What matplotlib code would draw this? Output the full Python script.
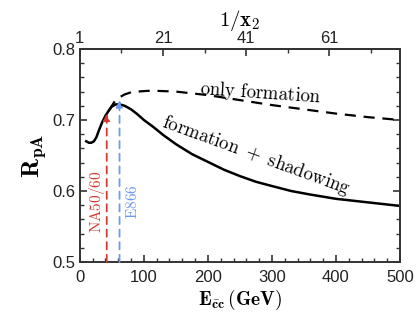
import matplotlib
matplotlib.use("Agg")
import matplotlib.pyplot as plt
import numpy as np
from matplotlib.ticker import MultipleLocator, FixedLocator

plt.rcParams['font.family'] = ['Liberation Sans', 'DejaVu Sans']
plt.rcParams['mathtext.fontset'] = 'cm'

# formation + shadowing (solid)
e_shadow = [10, 14, 18, 22, 26, 30, 35, 40, 45, 50, 56, 62, 70, 80, 90, 100, 115, 130,
            150, 175, 200, 225, 250, 275, 300, 330, 360, 400, 450, 500]
r_shadow = [0.670, 0.668, 0.668, 0.670, 0.676, 0.686, 0.697, 0.706, 0.713, 0.719, 0.722, 0.722,
            0.720, 0.715, 0.708, 0.700, 0.690, 0.679, 0.666, 0.652, 0.641, 0.630, 0.621,
            0.613, 0.607, 0.600, 0.595, 0.589, 0.584, 0.579]

# only formation (dashed)
e_form = [45, 50, 55, 62, 70, 80, 90, 105, 120, 150, 200, 250, 300, 350, 400, 450, 500]
r_form = [0.713, 0.720, 0.727, 0.732, 0.736, 0.739, 0.740, 0.741, 0.741, 0.740, 0.735,
          0.728, 0.721, 0.715, 0.709, 0.704, 0.700]

# experiment markers: energy, arrow tip, label, colour
exp_e = [42, 62]
exp_tip = [0.709, 0.728]
exp_names = ['NA50/60', 'E866']
exp_colors = ['#d43a2f', '#6c9bf0']

top_ticks = [1, 21, 41, 61]
gev_per_unit = 6.49

fig = plt.figure(figsize=(4.18, 3.18), dpi=100)
ax = fig.add_axes([0.191, 0.176, 0.766, 0.67])

ax.plot(e_shadow, r_shadow, color='black', lw=1.8)
ax.plot(e_form, r_form, color='black', lw=1.6, dashes=(5, 3.5))

for e, tip, name, c, dx in zip(exp_e, exp_tip, exp_names, exp_colors, [-15, 21]):
    ax.annotate('', xy=(e, tip), xytext=(e, 0.5),
                arrowprops=dict(arrowstyle='-|>', color=c, lw=1.3, linestyle=(0, (4, 3)),
                                mutation_scale=10, shrinkA=0, shrinkB=0))
    ax.text(e + dx, 0.585, r'$\mathrm{' + name + '}$', color=c, rotation=90,
            ha='center', va='center', fontsize=11)

ax.text(282, 0.737, r'$\mathrm{only\ formation}$', fontsize=13.5, rotation=-4,
        ha='center', va='center')
ax.text(276, 0.650, r'$\mathrm{formation\ +\ shadowing}$', fontsize=13.5, rotation=-20,
        ha='center', va='center')

ax.set_xlim(0, 500)
ax.set_ylim(0.5, 0.8)
ax.xaxis.set_major_locator(MultipleLocator(100))
ax.xaxis.set_minor_locator(MultipleLocator(20))
ax.yaxis.set_major_locator(MultipleLocator(0.1))
ax.yaxis.set_minor_locator(MultipleLocator(0.02))
ax.tick_params(which='both', direction='in', right=True, color='#333333',
               labelsize=12, labelcolor='#222222')
ax.tick_params(which='major', length=5, width=1.2)
ax.tick_params(which='minor', length=3, width=1.0)
ax.tick_params(axis='x', pad=6)
for s in ax.spines.values():
    s.set_color('#333333')
    s.set_linewidth(1.4)

ax.set_xlabel(r'$\mathbf{E}_{\mathbf{\bar{c}c}}\,\mathbf{(GeV)}$', fontsize=14, labelpad=2)
ax.set_ylabel(r'$\mathbf{R}_{\mathbf{pA}}$', fontsize=18, labelpad=3)

top = ax.secondary_xaxis('top', functions=(lambda e: 1 + np.asarray(e) / gev_per_unit,
                                           lambda n: (np.asarray(n) - 1) * gev_per_unit))
top.xaxis.set_major_locator(FixedLocator(top_ticks))
top.xaxis.set_minor_locator(FixedLocator([11, 31, 51, 71]))
top.tick_params(which='both', direction='in', color='#333333', labelsize=12,
                labelcolor='#222222', pad=2)
top.tick_params(which='major', length=5, width=1.2)
top.tick_params(which='minor', length=3, width=1.0)
top.spines['top'].set_color('#333333')
top.spines['top'].set_linewidth(1.4)
top.set_xlabel(r'$\mathbf{1/x_2}$', fontsize=15, labelpad=4)

fig.savefig('out.png', dpi=100)
